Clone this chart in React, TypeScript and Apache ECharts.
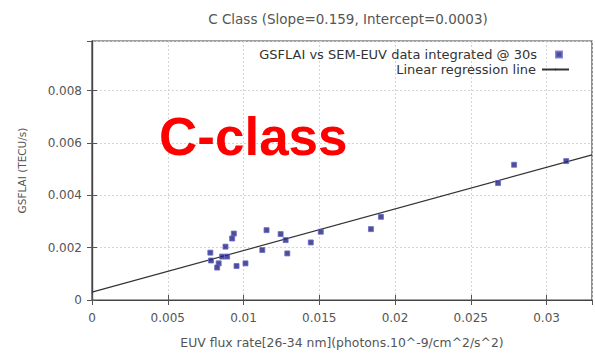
import React, { useEffect, useRef } from "react";
import * as echarts from "echarts";

// EUV flux (x) vs GSFLAI (y) samples for C-class flares
const euvFlux = [
  0.00936, 0.00925, 0.01152, 0.01245, 0.01278, 0.00881, 0.00781, 0.00859,
  0.00892, 0.00786, 0.00836, 0.00826, 0.00954, 0.01013, 0.01124, 0.01289,
  0.01444, 0.0151, 0.01841, 0.01907, 0.0268, 0.02786, 0.0313,
];
const gsflai = [
  0.00254, 0.00235, 0.00267, 0.00252, 0.00229, 0.00204, 0.00181, 0.00166,
  0.00166, 0.00151, 0.0014, 0.00124, 0.0013, 0.0014, 0.00191, 0.00178,
  0.0022, 0.00261, 0.00271, 0.00318, 0.00447, 0.00517, 0.00531,
];

const slope = 0.159;
const intercept = 0.0003;
const xRange = [0, 0.033];
const yRange = [0, 0.0099];

const scatterName = "GSFLAI vs SEM-EUV data integrated @ 30s";
const lineName = "Linear regression line";
const titleText = `C Class (Slope=${slope}, Intercept=${intercept})`;
const xAxisTitle = "EUV flux rate[26-34 nm](photons.10^-9/cm^2/s^2)";
const yAxisTitle = "GSFLAI (TECU/s)";
const overlayText = "C-class";

const FONT = "'DejaVu Sans', 'Noto Sans', sans-serif";
const TXT = "#555";

export default function App() {
  const ref = useRef<HTMLDivElement>(null);

  useEffect(() => {
    if (!ref.current) return;
    const chart = echarts.init(ref.current, null, { renderer: "svg" });

    const points = euvFlux.map((x, i) => [x, gsflai[i]]);
    const regLine = xRange.map((x) => [x, slope * x + intercept]);

    const gridLine = { show: true, lineStyle: { color: "#d4d4d4", type: [2, 2] as any, width: 1 } };
    const frameLine = { show: true, lineStyle: { color: "#444", width: 1.2 } };
    const innerTick = { show: true, inside: true, length: 5, lineStyle: { color: "#555" } };

    chart.setOption({
      animation: false,
      backgroundColor: "#fff",
      title: {
        text: titleText,
        left: 343,
        textAlign: "center",
        top: 7,
        textStyle: { fontFamily: FONT, fontSize: 13.5, fontWeight: "normal", color: TXT },
      },
      grid: {
        left: 92,
        right: 3,
        top: 41,
        bottom: 51,
        show: true,
        borderColor: "#444",
        borderWidth: 1.2,
        containLabel: false,
      },
      legend: [
        {
          data: [scatterName],
          right: 32,
          top: 48,
          align: "right",
          itemWidth: 6,
          itemHeight: 6,
          icon: "rect",
          textStyle: { fontFamily: FONT, fontSize: 13, color: "#333", padding: [0, 14, 0, 0] },
          padding: [0, 0, 0, 0],
        },
        {
          data: [lineName],
          right: 25,
          top: 63,
          align: "right",
          itemWidth: 27,
          itemHeight: 2,
          textStyle: { fontFamily: FONT, fontSize: 13, color: "#333", padding: [0, 1, 0, 0] },
          padding: [0, 0, 0, 0],
        },
      ],
      xAxis: [
        {
          type: "value",
          min: xRange[0],
          max: xRange[1],
          interval: 0.005,
          name: xAxisTitle,
          nameLocation: "middle",
          nameGap: 36,
          nameTextStyle: { fontFamily: FONT, fontSize: 12.4, color: TXT },
          axisLine: frameLine,
          axisTick: innerTick,
          axisLabel: { showMaxLabel: false, margin: 12, fontFamily: FONT, fontSize: 12, color: TXT },
          splitLine: gridLine,
        },
        {
          type: "value",
          position: "top",
          min: xRange[0],
          max: xRange[1],
          interval: 0.005,
          axisLine: frameLine,
          axisTick: innerTick,
          axisLabel: { show: false },
          splitLine: { show: false },
        },
      ],
      yAxis: [
        {
          type: "value",
          min: yRange[0],
          max: yRange[1],
          interval: 0.002,
          name: yAxisTitle,
          nameLocation: "middle",
          nameGap: 65,
          nameTextStyle: { fontFamily: FONT, fontSize: 10.5, color: TXT },
          axisLine: frameLine,
          axisTick: innerTick,
          axisLabel: { showMaxLabel: false, margin: 10, fontFamily: FONT, fontSize: 12, color: TXT },
          splitLine: gridLine,
        },
        {
          type: "value",
          position: "right",
          min: yRange[0],
          max: yRange[1],
          interval: 0.002,
          axisLine: frameLine,
          axisTick: innerTick,
          axisLabel: { show: false },
          splitLine: { show: false },
        },
      ],
      series: [
        {
          name: lineName,
          type: "line",
          data: regLine,
          symbol: "none",
          lineStyle: { color: "#333", width: 1.2 },
          itemStyle: { color: "#333" },
          z: 2,
        },
        {
          name: scatterName,
          type: "scatter",
          data: points,
          symbol: "rect",
          symbolSize: 5,
          itemStyle: { color: "#22227a", borderColor: "#6a6ad0", borderWidth: 1 },
          z: 3,
        },
      ],
      graphic: [
        {
          type: "text",
          left: 159,
          top: 110,
          style: {
            text: overlayText,
            fill: "#ff0000",
            font: "bold 53px 'Liberation Sans', Arial, sans-serif",
          },
          z: 10,
        },
      ],
    });

    return () => chart.dispose();
  }, []);

  return <div ref={ref} style={{ width: 595, height: 353, position: "absolute", left: 0, top: 0 }} />;
}
